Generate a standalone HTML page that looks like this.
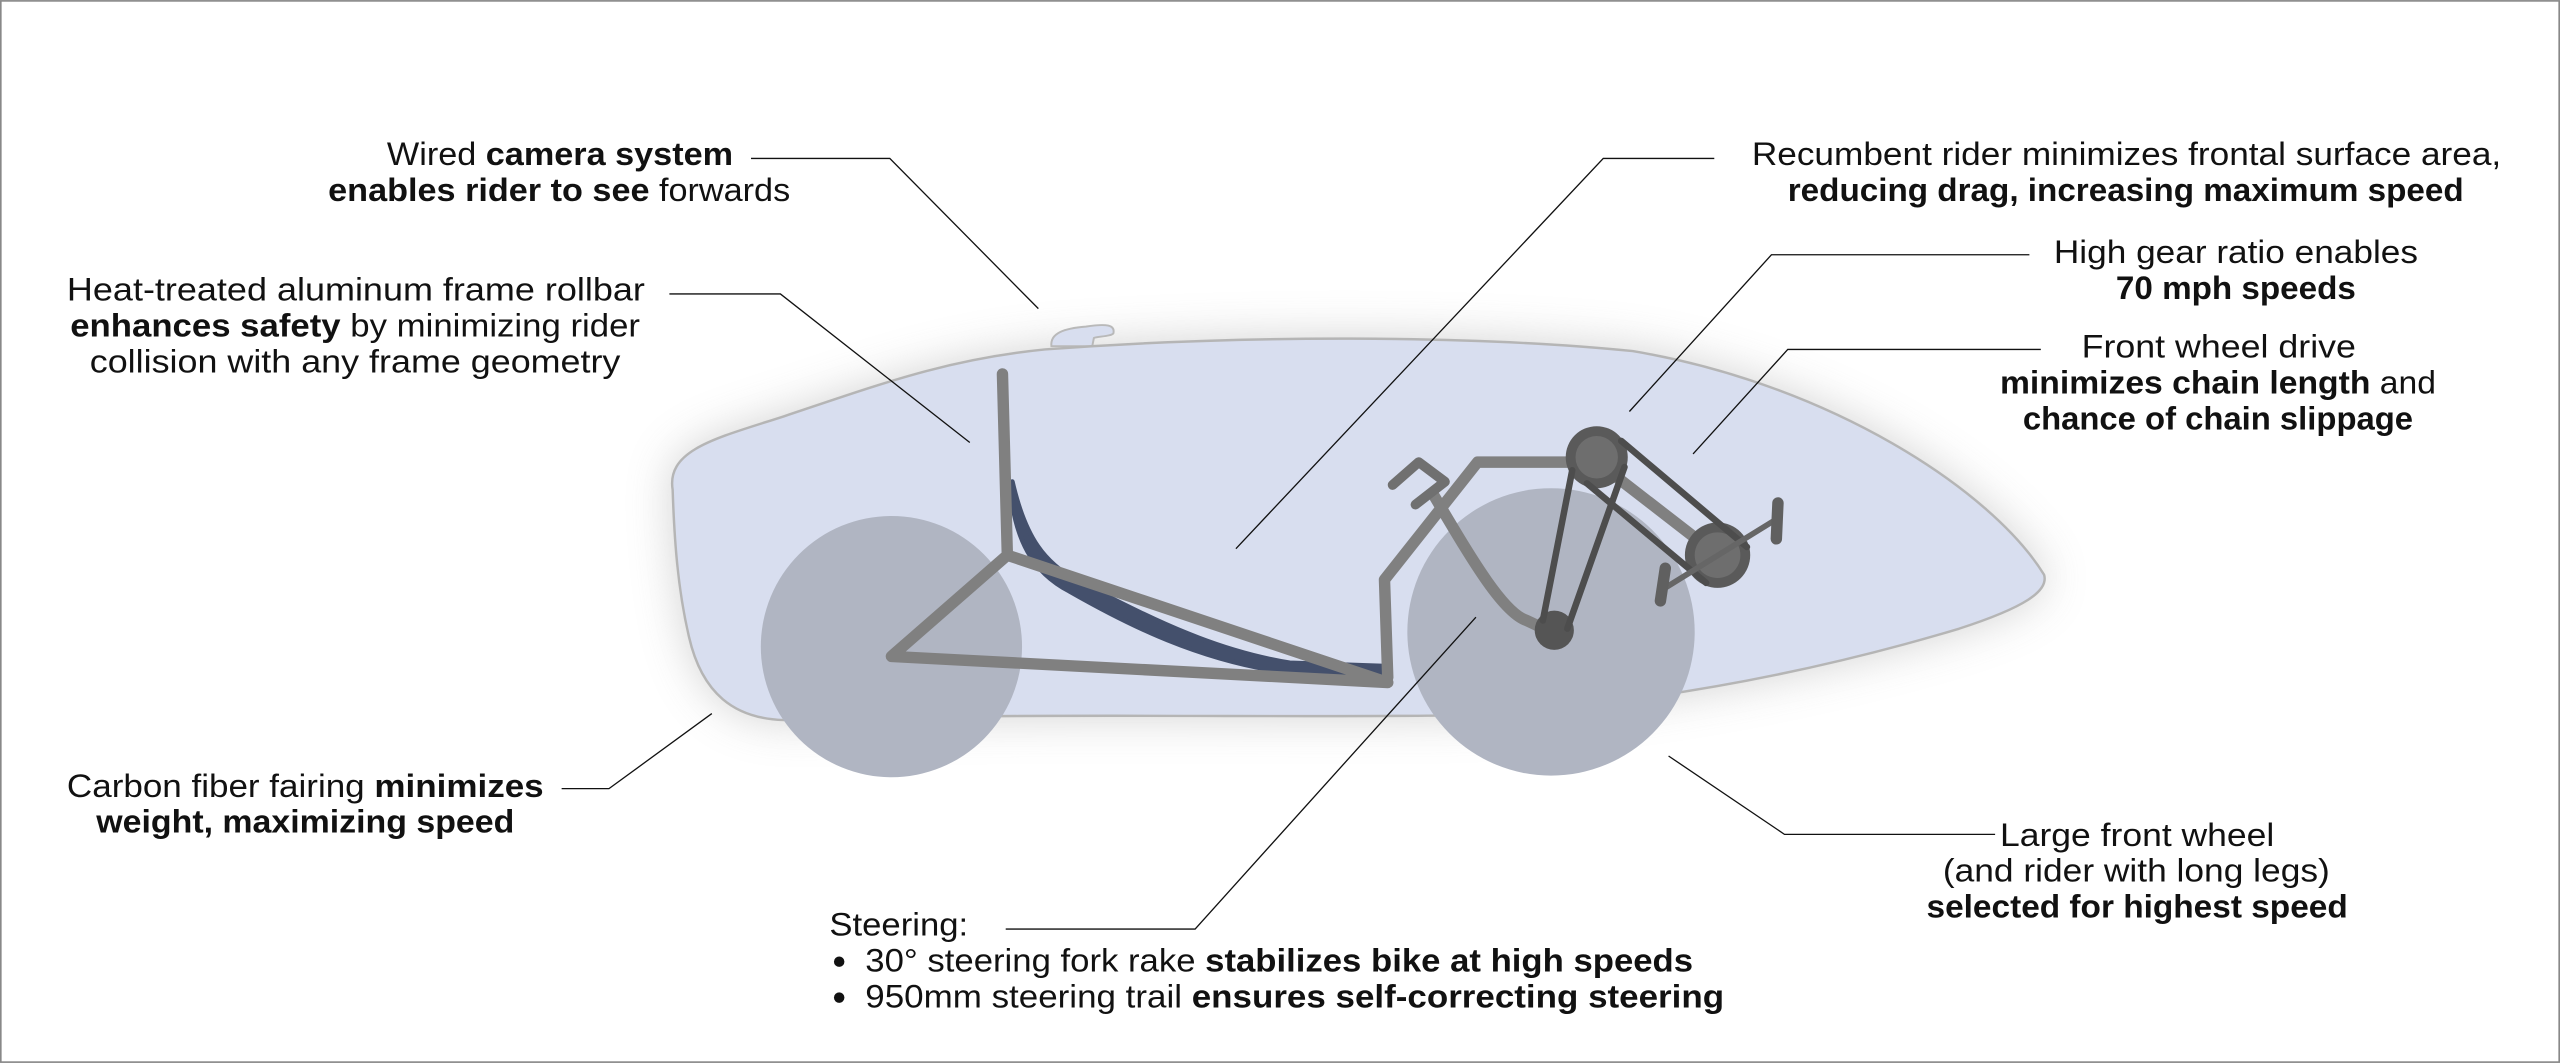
<!DOCTYPE html>
<html><head><meta charset="utf-8"><style>
html,body{margin:0;padding:0;background:#fff;}
svg{display:block;}
text{font-family:"Liberation Sans",sans-serif;font-size:20px;fill:#111;}
.b{font-weight:700;}
</style></head><body>
<svg width="2560" height="1063" viewBox="0 0 1568 651" xmlns="http://www.w3.org/2000/svg">
<defs>
<filter id="sh" x="-20%" y="-30%" width="140%" height="160%"><feGaussianBlur stdDeviation="14"/></filter>
</defs>
<rect x="0.5" y="0.5" width="1567" height="650" fill="#fff" stroke="#888" stroke-width="1"/>
<!-- fairing shadow -->
<path d="M412,300 C408,275 440,268 480,255 C540,235 580,220 640,214 C760,205 900,205 1000,215 C1120,235 1220,300 1252,352 C1255,362 1240,372 1200,385 C1100,415 1000,432 900,438 C780,440 650,436 480,441 C450,440 430,425 422,390 C415,360 413,330 412,300 Z" fill="#999" opacity="0.45" filter="url(#sh)"/>
<path d="M644,212 C643,204 652,201 665,200 C678,198 683,199 682,204 C681,206 672,206 670,207 L669,212 Z" fill="#d8deef" stroke="#b9b9b9" stroke-width="1.2"/>
<path d="M412,300 C408,275 440,268 480,255 C540,235 580,220 640,214 C760,205 900,205 1000,215 C1120,235 1220,300 1252,352 C1255,362 1240,372 1200,385 C1100,415 1000,432 900,438 C780,440 650,436 480,441 C450,440 430,425 422,390 C415,360 413,330 412,300 Z" fill="#d8deef" stroke="#b5b5b5" stroke-width="1.5"/>
<circle cx="546" cy="396" r="80" fill="#b0b5c2"/>
<circle cx="950" cy="387" r="88" fill="#b0b5c2"/>
<path d="M620,295 C628,330 640,345 660,356 C700,376 740,398 790,406 L848,408 L848,414 L790,412 C735,405 690,382 655,362 C632,350 622,330 619,300 Z" fill="#44506c" stroke="#44506c" stroke-width="3" stroke-linejoin="round"/>
<g stroke="#808080" stroke-width="7" stroke-linecap="round" stroke-linejoin="round" fill="none">
<path d="M614,229 L617,340 L546,402 L850,418 L617,340"/>
<path d="M850,415 L848,355 L905,283 L975,283"/>
<path d="M878,303 C900,340 920,375 935,380 L950,387"/>
<path d="M990,292 L1052,340"/>
</g>
<g stroke="#707070" stroke-width="6" stroke-linecap="round" stroke-linejoin="round" fill="none">
<path d="M853,297 L869,283 L885,295 L867,309"/>
</g>
<g>
<circle cx="978" cy="280" r="19" fill="#5a5a5a"/>
<circle cx="978" cy="280" r="13" fill="#6e6e6e"/>
<circle cx="952" cy="386" r="12" fill="#555"/>
<circle cx="1052" cy="340" r="20" fill="#5a5a5a"/>
<circle cx="1052" cy="340" r="14" fill="#6e6e6e"/>
<g stroke="#4d4d4d" stroke-width="4" stroke-linecap="round" fill="none">
<path d="M963,288 L945,380"/><path d="M995,286 L960,385"/>
<path d="M993,270 L1070,335"/><path d="M972,296 L1045,357"/>
</g>
<path d="M1020,360 L1088,318" stroke="#666" stroke-width="3.5"/>
<path d="M1089,308 L1088,330" stroke="#606060" stroke-width="7" stroke-linecap="round"/>
<path d="M1020,348 L1017,368" stroke="#606060" stroke-width="7" stroke-linecap="round"/>
</g>
<g stroke="#111" stroke-width="0.8" fill="none">
<path d="M460,97 L545,97 L636,189"/>
<path d="M410,180 L478,180 L594,271"/>
<path d="M1050,97 L982,97 L757,336"/>
<path d="M1243,156 L1085,156 L998,252"/>
<path d="M1250,214 L1095,214 L1037,278"/>
<path d="M344,483 L373,483 L436,437"/>
<path d="M1222,511 L1093,511 L1022,463"/>
<path d="M616,569 L732,569 L904,378"/>
</g>
<g>
<text x="237" y="101" textLength="212" lengthAdjust="spacingAndGlyphs">Wired <tspan class="b">camera system</tspan></text>
<text x="201" y="123" textLength="283" lengthAdjust="spacingAndGlyphs"><tspan class="b">enables rider to see</tspan> forwards</text>
</g>
<g>
<text x="41" y="184" textLength="354" lengthAdjust="spacingAndGlyphs">Heat-treated aluminum frame rollbar</text>
<text x="43" y="206" textLength="349" lengthAdjust="spacingAndGlyphs"><tspan class="b">enhances safety</tspan> by minimizing rider</text>
<text x="55" y="228" textLength="325" lengthAdjust="spacingAndGlyphs">collision with any frame geometry</text>
</g>
<g>
<text x="1073" y="101" textLength="459" lengthAdjust="spacingAndGlyphs">Recumbent rider minimizes frontal surface area,</text>
<text x="1095" y="123" textLength="414" lengthAdjust="spacingAndGlyphs" class="b">reducing drag, increasing maximum speed</text>
</g>
<g>
<text x="1258" y="161" textLength="223" lengthAdjust="spacingAndGlyphs">High gear ratio enables</text>
<text x="1296" y="183" textLength="147" lengthAdjust="spacingAndGlyphs" class="b">70 mph speeds</text>
</g>
<g>
<text x="1275" y="219" textLength="168" lengthAdjust="spacingAndGlyphs">Front wheel drive</text>
<text x="1225" y="241" textLength="267" lengthAdjust="spacingAndGlyphs"><tspan class="b">minimizes chain length</tspan> and</text>
<text x="1239" y="263" textLength="239" lengthAdjust="spacingAndGlyphs" class="b">chance of chain slippage</text>
</g>
<g>
<text x="41" y="488" textLength="292" lengthAdjust="spacingAndGlyphs">Carbon fiber fairing <tspan class="b">minimizes</tspan></text>
<text x="59" y="510" textLength="256" lengthAdjust="spacingAndGlyphs" class="b">weight, maximizing speed</text>
</g>
<g>
<text x="1225" y="518" textLength="168" lengthAdjust="spacingAndGlyphs">Large front wheel</text>
<text x="1190" y="540" textLength="237" lengthAdjust="spacingAndGlyphs">(and rider with long legs)</text>
<text x="1180" y="562" textLength="258" lengthAdjust="spacingAndGlyphs" class="b">selected for highest speed</text>
</g>
<g>
<text x="508" y="573" textLength="85" lengthAdjust="spacingAndGlyphs">Steering:</text>
<circle cx="514" cy="589" r="3.2" fill="#111"/>
<text x="530" y="595" textLength="507" lengthAdjust="spacingAndGlyphs">30° steering fork rake <tspan class="b">stabilizes bike at high speeds</tspan></text>
<circle cx="514" cy="611" r="3.2" fill="#111"/>
<text x="530" y="617" textLength="526" lengthAdjust="spacingAndGlyphs">950mm steering trail <tspan class="b">ensures self-correcting steering</tspan></text>
</g>
</svg>
</body></html>
